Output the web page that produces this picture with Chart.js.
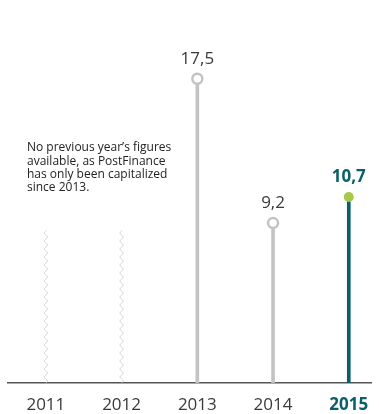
<!DOCTYPE html>
<html>
<head>
<meta charset="utf-8">
<script src="https://cdn.jsdelivr.net/npm/chart.js@4"></script>
<style>
  html, body { margin: 0; padding: 0; background: #fff; }
  #wrap { width: 379px; height: 414px; position: relative; }
</style>
</head>
<body>
<div id="wrap"><canvas id="myChart"></canvas></div>
<script>
// data
const years = [2011, 2012, 2013, 2014, 2015]
const valueYears = [2013, 2014, 2015]
const values = [17.5, 9.2, 10.7]
const valueLabels = ['17,5', '9,2', '10,7']
// years without figures, drawn as broken (wavy) lines
const breakYears = [2011, 2012]
const breakHeights = [8.8, 8.8]
const note = ["No previous year\u2019s figures", "available, as PostFinance", "has only been capitalized", "since 2013."]

const grey = '#c3c3c3'
const teal = '#0b5f6c'
const green = '#a6c94c'
const textColour = '#3a3a3a'
const fontFamily = "'Open Sans', sans-serif"

function isLast(year) {
    return year === years[years.length - 1]
}

function tickIsLast(c) {
    return !!(c && c.tick && isLast(c.tick.value))
}

const stemColours = valueYears.map(y => isLast(y) ? teal : grey)

const extrasPlugin = {
    id: 'extras',
    afterDatasetsDraw(chart) {
        const ctx = chart.ctx
        const x = chart.scales.x
        const yScale = chart.scales.y
        const base = yScale.getPixelForValue(0)

        // wavy lines
        ctx.save()
        ctx.strokeStyle = '#cfcfcf'
        ctx.lineWidth = 1
        for (let i = 0; i < breakYears.length; i++) {
            const cx = x.getPixelForValue(breakYears[i])
            const top = yScale.getPixelForValue(breakHeights[i])
            ctx.beginPath()
            for (let py = base; py >= top; py -= 0.5) {
                const px = cx + 1.6 * Math.sin((base - py) / 8 * Math.PI * 2)
                if (py === base) ctx.moveTo(px, py)
                else ctx.lineTo(px, py)
            }
            ctx.stroke()
        }
        ctx.restore()

        // value labels
        ctx.save()
        ctx.textAlign = 'center'
        ctx.textBaseline = 'middle'
        for (let i = 0; i < values.length; i++) {
            const last = isLast(valueYears[i])
            ctx.font = (last ? 'bold ' : '') + '17px ' + fontFamily
            ctx.fillStyle = last ? teal : textColour
            ctx.fillText(valueLabels[i], x.getPixelForValue(valueYears[i]), yScale.getPixelForValue(values[i]) - 20)
        }
        ctx.restore()

        // note text
        ctx.save()
        ctx.font = '12px ' + fontFamily
        ctx.fillStyle = '#222'
        ctx.textAlign = 'left'
        ctx.textBaseline = 'middle'
        for (let i = 0; i < note.length; i++) {
            ctx.fillText(note[i], 27, 148 + i * 13.3)
        }
        ctx.restore()
    }
}

const ctx = document.getElementById('myChart').getContext('2d')
const myChart = new Chart(ctx, {
    data: {
        datasets: [
            {
                type: 'line',
                data: valueYears.map((y, i) => ({x: y, y: values[i]})),
                showLine: false,
                pointRadius: 5,
                pointHoverRadius: 5,
                pointBorderWidth: valueYears.map(y => isLast(y) ? 0 : 2.5),
                pointBorderColor: grey,
                pointBackgroundColor: valueYears.map(y => isLast(y) ? green : '#fff'),
                order: 0
            },
            {
                type: 'bar',
                data: valueYears.map((y, i) => ({x: y, y: values[i]})),
                backgroundColor: stemColours,
                barThickness: 3,
                order: 1
            }
        ]
    },
    options: {
        responsive: true,
        maintainAspectRatio: false,
        animation: false,
        layout: { padding: { left: 8, right: 7, top: 0, bottom: -6 } },
        plugins: { legend: { display: false }, tooltip: { enabled: false } },
        scales: {
            x: {
                type: 'linear',
                offset: false,
                min: 2010.5,
                max: 2015.3,
                afterBuildTicks: scale => { scale.ticks = years.map(v => ({value: v})) },
                grid: { display: false },
                border: { color: '#555', width: 1.5 },
                ticks: {
                    padding: 6,
                    autoSkip: false,
                    maxRotation: 0,
                    callback: v => String(v),
                    color: c => tickIsLast(c) ? teal : textColour,
                    font: c => ({ family: fontFamily, size: 17, lineHeight: 1, weight: tickIsLast(c) ? 'bold' : 'normal' })
                }
            },
            y: {
                display: false,
                min: 0,
                max: 21.6
            }
        }
    },
    plugins: [extrasPlugin]
})
</script>
</body>
</html>
